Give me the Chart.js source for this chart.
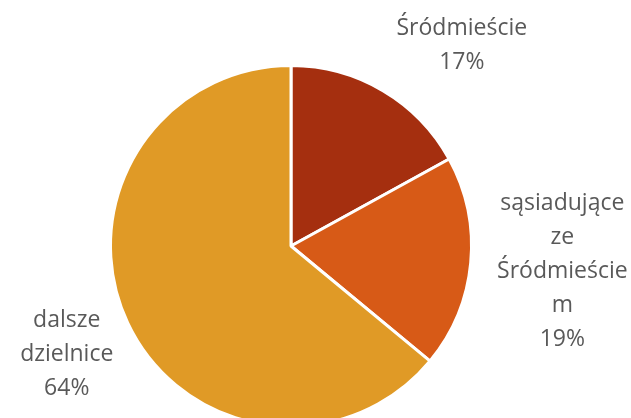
<!DOCTYPE html>
<html>
<head>
<meta charset="utf-8">
<script src="https://cdn.jsdelivr.net/npm/chart.js@4"></script>
<style>
  html, body { margin: 0; padding: 0; background: #fff; overflow: hidden; }
  #wrap { width: 631px; height: 440px; position: relative; }
</style>
</head>
<body>
<div id="wrap"><canvas id="pieChart"></canvas></div>
<script>
const categories = ["Śródmieście", "sąsiadujące ze Śródmieściem", "dalsze dzielnice"];
const shares = [17, 19, 64];
// how the labels wrap in the original
const labelLines = [
  ["Śródmieście"],
  ["sąsiadujące", "ze", "Śródmieście", "m"],
  ["dalsze", "dzielnice"]
];
const colors = ["#a52f0f", "#d75a17", "#e09a26"];

// label placement: distance from centre (in radii) and angle nudge (deg)
const labelDist = [1.46, 1.51, 1.38];
const labelNudge = [9.8, 0, -0.6];

const outsideLabels = {
  id: "outsideLabels",
  afterDatasetsDraw(chart) {
    const c = chart.ctx;
    const meta = chart.getDatasetMeta(0);
    c.save();
    c.font = "23px 'Open Sans'";
    c.fillStyle = "#595959";
    c.textAlign = "center";
    c.textBaseline = "middle";
    const lineH = 34;
    meta.data.forEach((arc, i) => {
      const p = arc.getProps(["x", "y", "startAngle", "endAngle", "outerRadius"], true);
      const mid = (p.startAngle + p.endAngle) / 2 + labelNudge[i] * Math.PI / 180;
      const d = p.outerRadius * labelDist[i];
      const cx = p.x + Math.cos(mid) * d;
      const cy = p.y + Math.sin(mid) * d;
      const lines = labelLines[i].concat([shares[i] + "%"]);
      const top = cy - (lines.length - 1) * lineH / 2;
      lines.forEach((t, k) => c.fillText(t, cx, top + k * lineH));
    });
    c.restore();
  }
};

new Chart(document.getElementById("pieChart"), {
  type: "pie",
  data: {
    labels: categories,
    datasets: [{
      data: shares,
      backgroundColor: colors,
      borderColor: "#ffffff",
      borderWidth: 3
    }]
  },
  options: {
    responsive: true,
    maintainAspectRatio: false,
    animation: false,
    layout: { padding: { top: 64, bottom: 12, left: 109, right: 158 } },
    plugins: {
      legend: { display: false },
      tooltip: { enabled: false }
    }
  },
  plugins: [outsideLabels]
});
</script>
</body>
</html>
